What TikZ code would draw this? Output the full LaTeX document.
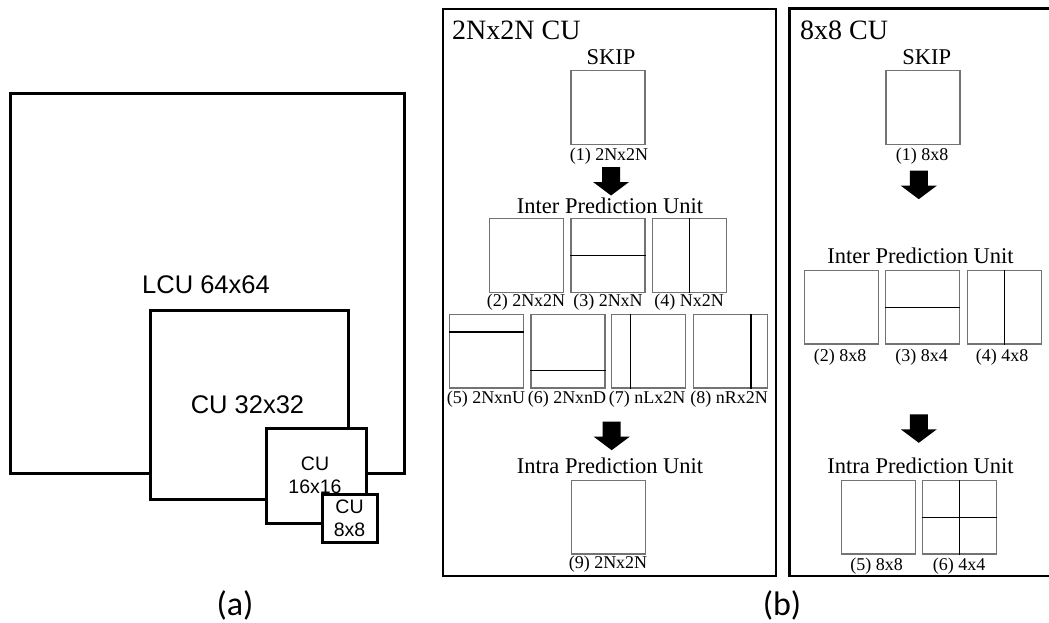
\documentclass[tikz,border=0pt]{standalone}
\usepackage{fontspec}
\setmainfont{Liberation Serif}
\newfontfamily\arialf{Liberation Sans}
\newfontfamily\calif{Carlito}
\usetikzlibrary{calc}
\begin{document}
\begin{tikzpicture}[x=1pt,y=-1pt,
  cubox/.style={draw=black,line width=3pt,fill=white},
  culab/.style={anchor=base,inner sep=0pt,font=\arialf\fontsize{25.5}{28}\selectfont},
  cusmall/.style={anchor=base,inner sep=0pt,font=\arialf\fontsize{19.5}{22}\selectfont},
  sublab/.style={anchor=base,inner sep=0pt,font=\calif\fontsize{34}{38}\selectfont},
  pu/.style={draw=black!55,line width=1.4pt,fill=white,inner sep=0pt,minimum width=74pt,minimum height=73.5pt},
  part/.style={line width=1.4pt,draw=black},
  frame/.style={draw=black,line width=2.6pt},
  title/.style={anchor=base west,inner sep=0pt,font=\fontsize{28}{32}\selectfont},
  head/.style={anchor=base,inner sep=0pt,font=\fontsize{22.5}{26}\selectfont},
  small/.style={anchor=base,inner sep=0pt,font=\fontsize{18}{21}\selectfont},
  fatarrow/.pic={\fill[black] (-9,0) -- (9,0) -- (9,15) -- (18,15) -- (0,28.5) -- (-18,15) -- (-9,15) -- cycle;}
]
\useasboundingbox (0,0) rectangle (1049,623);

% ---------- (a) ----------
\draw[cubox] (10,94) rectangle (404,473);
\node[culab] (lcu) at (206,293) {LCU 64x64};
\draw[cubox] (150,310) rectangle (348,499);
\node[culab] (cu32) at (247.5,413.3) {CU 32x32};
\draw[cubox] (266,428) rectangle (366,523);
\node[cusmall] (cu16a) at (315,470) {CU};
\node[cusmall] (cu16b) at (315,493.3) {16x16};
\draw[cubox] (322,494) rectangle (377,542);
\node[cusmall] (cu8a) at (349.5,513.3) {CU};
\node[cusmall] (cu8b) at (349.5,536.7) {8x8};
\node[sublab] (la) at (235,615) {(a)};
\node[sublab] (lb) at (782,615) {(b)};

% ---------- 2Nx2N CU ----------
\draw[frame] (443,9) rectangle (776,576);
\node[title] (t1) at (452,40) {2Nx2N CU};
\node[head] (skip1) at (611,64.3) {SKIP};
\node[pu] (b1) at (608,107.5) {};
\node[small] (l1) at (609,160.7) {(1) 2Nx2N};
\pic at (611,167) {fatarrow};
\node[head] (inter1) at (610,213) {Inter Prediction Unit};
\node[pu] (b2) at (526.3,255.5) {};
\node[pu] (b3) at (607.8,255.5) {};
\node[pu] (b4) at (689.5,255.5) {};
\draw[part] (b3.west) -- (b3.east);
\draw[part] (b4.north) -- (b4.south);
\node[small] (l2) at (526,306.7) {(2) 2Nx2N};
\node[small] (l3) at (608,306.7) {(3) 2NxN};
\node[small] (l4) at (689,306.7) {(4) Nx2N};
\node[pu] (b5) at (486.2,351.3) {};
\node[pu] (b6) at (568,351.3) {};
\node[pu] (b7) at (648.7,351.3) {};
\node[pu] (b8) at (730.3,351.3) {};
\draw[part] ($(b5.north west)!0.24!(b5.south west)$) -- ($(b5.north east)!0.24!(b5.south east)$);
\draw[part] ($(b6.north west)!0.76!(b6.south west)$) -- ($(b6.north east)!0.76!(b6.south east)$);
\draw[part] ($(b7.north west)!0.26!(b7.north east)$) -- ($(b7.south west)!0.26!(b7.south east)$);
\draw[part] ($(b8.north west)!0.775!(b8.north east)$) -- ($(b8.south west)!0.775!(b8.south east)$);
\node[small] (l5) at (486,403.3) {(5) 2NxnU};
\node[small] (l6) at (567,403.3) {(6) 2NxnD};
\node[small] (l7) at (647,403.3) {(7) nLx2N};
\node[small] (l8) at (729,403.3) {(8) nRx2N};
\pic at (611.7,421.7) {fatarrow};
\node[head] (intra1) at (610,473.3) {Intra Prediction Unit};
\node[pu] (b9) at (608.3,517.3) {};
\node[small] (l9) at (608,568.3) {(9) 2Nx2N};

% ---------- 8x8 CU ----------
\draw[frame] (1053,8.5) -- (789.5,8.5) -- (789.5,576) -- (1053,576);
\node[title] (t2) at (800,40) {8x8 CU};
\node[head] (skip2) at (926.7,64.3) {SKIP};
\node[pu] (r1) at (923,107.5) {};
\node[small] (m1) at (922,160.7) {(1) 8x8};
\pic at (918.8,170.7) {fatarrow};
\node[head] (inter2) at (920.5,263.3) {Inter Prediction Unit};
\node[pu] (r2) at (841.7,307.3) {};
\node[pu] (r3) at (922.7,307.3) {};
\node[pu] (r4) at (1004.2,307.3) {};
\draw[part] (r3.west) -- (r3.east);
\draw[part] (r4.north) -- (r4.south);
\node[small] (m2) at (840,361.7) {(2) 8x8};
\node[small] (m3) at (921.7,361.7) {(3) 8x4};
\node[small] (m4) at (1002,361.7) {(4) 4x8};
\pic at (918.8,414.3) {fatarrow};
\node[head] (intra2) at (920.5,473.3) {Intra Prediction Unit};
\node[pu] (r5) at (878.5,517.3) {};
\node[pu] (r6) at (959.5,517.3) {};
\draw[part] (r6.west) -- (r6.east);
\draw[part] (r6.north) -- (r6.south);
\node[small] (m5) at (876.7,570) {(5) 8x8};
\node[small] (m6) at (959,570) {(6) 4x4};
\end{tikzpicture}
\end{document}
